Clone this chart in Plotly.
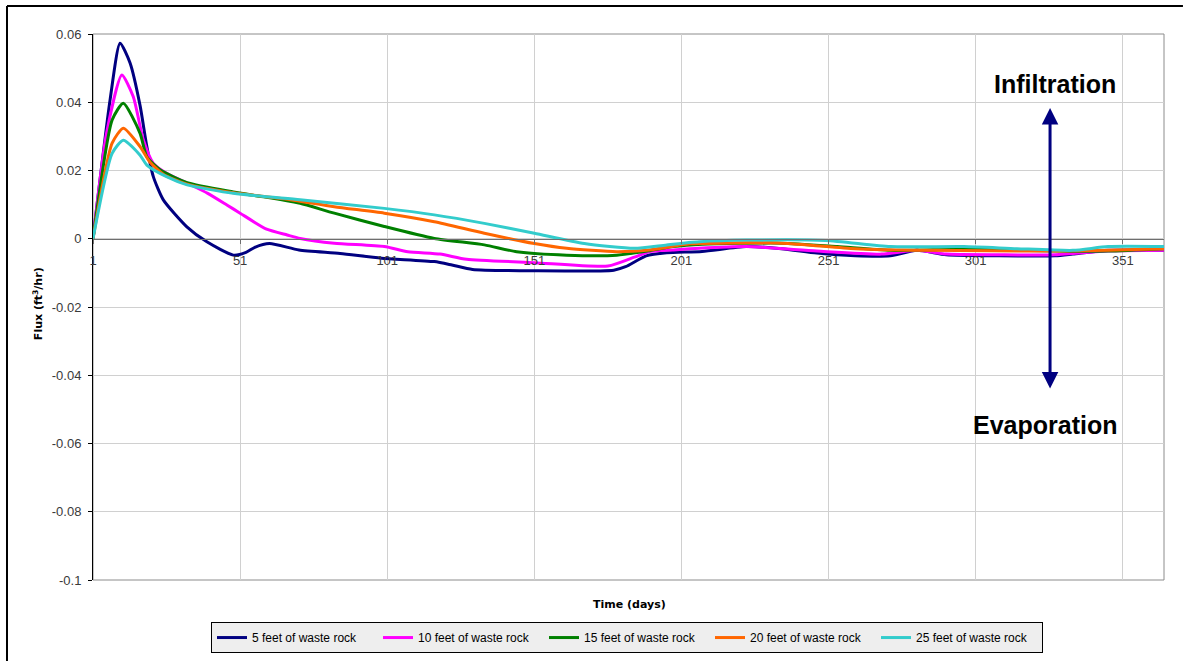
import plotly.graph_objects as go

# Daily flux through the cover for five waste-rock thicknesses (ft^3/hr)
series_names = [
    "5 feet of waste rock",
    "10 feet of waste rock",
    "15 feet of waste rock",
    "20 feet of waste rock",
    "25 feet of waste rock",
]

days_5ft = [1, 6.8, 10.2, 13.6, 17, 19.3, 21.5, 24.9, 32.9, 39.7, 48.7, 53, 56, 61, 71, 85, 99,
            117, 123, 130, 151, 178, 182, 189, 196, 208, 223, 235, 247, 260, 272, 281, 291, 309,
            328, 334, 346, 365]
flux_5ft = [0, 0.0407, 0.0573, 0.0515, 0.0390, 0.027, 0.0182, 0.0114, 0.0035, -0.0009, -0.0048,
            -0.0040, -0.0025, -0.0014, -0.0033, -0.0043, -0.0057, -0.0067, -0.0077, -0.0090,
            -0.0094, -0.0092, -0.0082, -0.0050, -0.0041, -0.0037, -0.0023, -0.0029, -0.0042,
            -0.0050, -0.0050, -0.0034, -0.0047, -0.0050, -0.0050, -0.0045, -0.0034, -0.0034]

days_10ft = [1, 5.6, 10.8, 14.7, 18.1, 21.5, 26, 33, 40, 46.5, 51, 60, 67, 71.4, 83, 100, 108,
             119, 128, 151, 176, 185, 190, 198, 207, 223, 247, 269, 281, 291, 309, 328, 346, 365]
flux_10ft = [0, 0.0309, 0.048, 0.0416, 0.029, 0.0221, 0.0192, 0.0163, 0.0133, 0.0099, 0.0075,
             0.0028, 0.0011, 0.0001, -0.0013, -0.0023, -0.0038, -0.0045, -0.0060, -0.0070,
             -0.0080, -0.0054, -0.0038, -0.0033, -0.0028, -0.0023, -0.0036, -0.0045, -0.0034,
             -0.0045, -0.0047, -0.0047, -0.0036, -0.0034]

days_15ft = [1, 7.5, 11.3, 17, 19.3, 23.8, 33, 48.7, 66, 71.4, 83, 100, 117, 134, 145, 162, 179,
             190, 198, 208, 235, 254, 272, 297, 328, 346, 365]
flux_15ft = [0, 0.0348, 0.0397, 0.0309, 0.024, 0.0202, 0.0164, 0.0137, 0.0113, 0.0104, 0.0075,
             0.0036, 0.0001, -0.0018, -0.0038, -0.0048, -0.0048, -0.0035, -0.0023, -0.0016,
             -0.0013, -0.0023, -0.0034, -0.0031, -0.0036, -0.0036, -0.0029]

days_20ft = [1, 7.5, 11.3, 17, 20.4, 25, 33, 48.7, 66, 83, 100, 117, 134, 151, 162, 179, 190,
             204, 235, 260, 284, 328, 346, 365]
flux_20ft = [0, 0.028, 0.0324, 0.027, 0.0224, 0.0188, 0.0160, 0.0135, 0.0117, 0.0094, 0.0075,
             0.0050, 0.0016, -0.0014, -0.0028, -0.0038, -0.0033, -0.0015, -0.0013, -0.0029,
             -0.0034, -0.0036, -0.0034, -0.0029]

days_25ft = [1, 7.5, 11.3, 17, 19.3, 26, 33, 48.7, 71.4, 100, 117, 134, 151, 168, 185, 196, 207,
             223, 250, 272, 297, 315, 334, 346, 365]
flux_25ft = [0, 0.025, 0.0289, 0.0245, 0.0216, 0.0182, 0.0158, 0.0133, 0.0114, 0.0089, 0.0070,
             0.0045, 0.0016, -0.0014, -0.0028, -0.0018, -0.0009, -0.0004, -0.0005, -0.0023,
             -0.0023, -0.0029, -0.0034, -0.0023, -0.0023]

series_days = [days_5ft, days_10ft, days_15ft, days_20ft, days_25ft]
series_flux = [flux_5ft, flux_10ft, flux_15ft, flux_20ft, flux_25ft]
series_colors = ["#000080", "#ff00ff", "#008000", "#ff6600", "#33cccc"]

x_ticks = [1, 51, 101, 151, 201, 251, 301, 351]
y_ticks = [0.06, 0.04, 0.02, 0, -0.02, -0.04, -0.06, -0.08, -0.1]
y_tick_text = ["0.06", "0.04", "0.02", "0", "-0.02", "-0.04", "-0.06", "-0.08", "-0.1"]

fig = go.Figure()
for name, d, f, c in zip(series_names, series_days, series_flux, series_colors):
    fig.add_trace(go.Scatter(
        x=d, y=f, name=name, mode="lines",
        line=dict(color=c, width=3, shape="spline", smoothing=0.6),
    ))

tick_font = dict(family="Liberation Sans, Arial", size=13, color="#3a3a3a")

fig.update_layout(
    width=1187, height=661,
    margin=dict(l=93, r=23, t=34, b=81, autoexpand=False),
    paper_bgcolor="white", plot_bgcolor="white",
    xaxis=dict(
        range=[1, 365], tickvals=x_ticks, ticktext=[str(v) for v in x_ticks],
        showgrid=True, gridcolor="#d0d0d0", gridwidth=1, zeroline=False,
        anchor="free", position=0.625,
        showline=True, linecolor="#6e6e6e", linewidth=1,
        ticks="outside", ticklen=4, tickcolor="#6e6e6e", ticklabelstandoff=6,
        tickfont=tick_font,
    ),
    yaxis=dict(
        range=[-0.1, 0.06], tickvals=y_ticks, ticktext=y_tick_text,
        showgrid=True, gridcolor="#d0d0d0", gridwidth=1, zeroline=False,
        showline=True, linecolor="black", linewidth=1,
        ticks="outside", ticklen=4, tickcolor="black", ticklabelstandoff=4,
        tickfont=tick_font,
    ),
    legend=dict(
        orientation="h", x=0.4986, xanchor="center", y=-0.077, yanchor="top",
        bgcolor="#eeeeee", bordercolor="black", borderwidth=1,
        font=dict(family="Liberation Sans, Arial", size=12, color="black"),
        itemwidth=30, entrywidth=121,
    ),
    showlegend=True,
)

# plot-area frame and outer chart frame
fig.add_shape(type="rect", xref="paper", yref="paper", x0=0, x1=1, y0=0, y1=1,
              line=dict(color="#8c8c8c", width=1), layer="below")
fig.add_shape(type="line", xref="paper", yref="paper", x0=-0.0803, x1=1.0177,
              y0=1.0513, y1=1.0513, line=dict(color="black", width=2))
fig.add_shape(type="line", xref="paper", yref="paper", x0=-0.0803, x1=-0.0803,
              y0=1.0513, y1=-0.16, line=dict(color="black", width=2))

# axis titles
title_font = dict(family="DejaVu Sans", size=11, color="black", weight="bold")
fig.add_annotation(text="Time (days)", xref="paper", yref="paper", x=0.5005, y=-0.044,
                   showarrow=False, font=title_font, xanchor="center", yanchor="middle")
fig.add_annotation(text="Flux (ft<sup>3</sup>/hr)", xref="paper", yref="paper", x=-0.0514,
                   y=0.507, showarrow=False, textangle=-90, font=title_font,
                   xanchor="center", yanchor="middle")

# infiltration / evaporation direction marker
fig.add_annotation(text="", xref="paper", yref="paper", x=0.8936, y=0.8645,
                   ax=0, ay=282, showarrow=True, arrowside="end+start",
                   arrowhead=2, arrowsize=1.1, arrowwidth=3, arrowcolor="#000080")
label_font = dict(family="Liberation Sans, Arial", size=25, color="black", weight="bold")
fig.add_annotation(text="Infiltration", xref="paper", yref="paper", x=0.8982, y=0.908,
                   showarrow=False, font=label_font, xanchor="center", yanchor="middle")
fig.add_annotation(text="Evaporation", xref="paper", yref="paper", x=0.8889, y=0.284,
                   showarrow=False, font=label_font, xanchor="center", yanchor="middle")

fig.write_html("out.html")
